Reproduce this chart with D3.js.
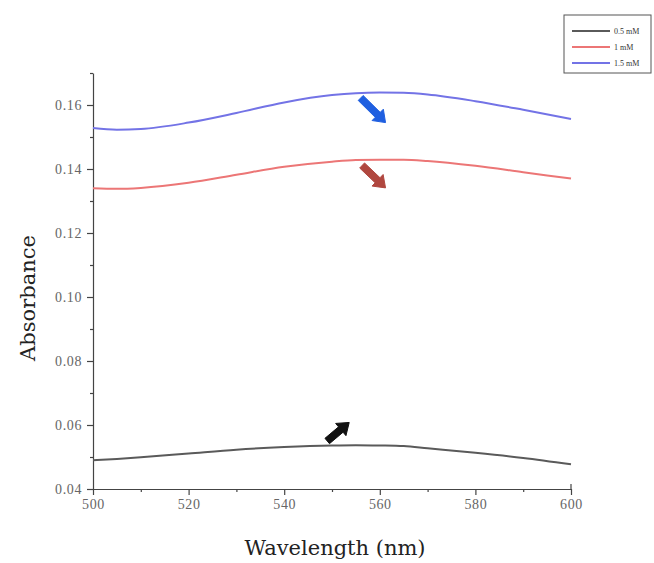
<!DOCTYPE html>
<html>
<head>
<meta charset="utf-8">
<script src="https://cdn.jsdelivr.net/npm/d3@7"></script>
<style>
  body { margin: 0; background: #fff; }
  svg { display: block; }
</style>
</head>
<body>
<div id="chart"></div>
<script>
// wavelengths (nm) sampled along the curves
const wavelengths = [500, 505, 510, 520, 530, 540, 550, 555, 560, 565, 570, 580, 590, 600];

// absorbance for each concentration
const abs05 = [0.0490, 0.0494, 0.0499, 0.0511, 0.0523, 0.0531, 0.0536, 0.0537, 0.0536, 0.0534, 0.0527, 0.0513, 0.0497, 0.0477];
const abs10 = [0.1340, 0.1338, 0.1341, 0.1357, 0.1382, 0.1407, 0.1423, 0.1428, 0.1429, 0.1429, 0.1425, 0.1410, 0.1390, 0.1370];
const abs15 = [0.1528, 0.1523, 0.1525, 0.1545, 0.1575, 0.1608, 0.1631, 0.1637, 0.1639, 0.1638, 0.1633, 0.1612, 0.1585, 0.1556];

const seriesNames = ["0.5 mM", "1 mM", "1.5 mM"];
const seriesColors = ["#5a5a5a", "#ec7676", "#7373e6"];

const xTicks = [500, 520, 540, 560, 580, 600];
const xMinor = [510, 530, 550, 570, 590];
const yTicks = [0.04, 0.06, 0.08, 0.10, 0.12, 0.14, 0.16];
const yMinor = [0.05, 0.07, 0.09, 0.11, 0.13, 0.15, 0.17];

// arrow annotations, in data units
const arrows = [
  {from: [556.0, 0.1622], to: [561.2, 0.1545], color: "#1f5fe0"},
  {from: [556.3, 0.1411], to: [561.2, 0.1341], color: "#b0473f"},
  {from: [549.0, 0.0550], to: [553.6, 0.0608], color: "#111"}
];

let width = 654, height = 563;
let margin = {top: 73, bottom: 74, left: 93, right: 83};

let svg = d3.select("#chart")
  .append("svg")
  .attr("width", width)
  .attr("height", height);

let x = d3.scaleLinear()
  .domain([500, 600])
  .range([margin.left, width - margin.right]);

let y = d3.scaleLinear()
  .domain([0.04, 0.17])
  .range([height - margin.bottom, margin.top]);

// axes
svg.append("g")
  .attr("transform", `translate(0,${height - margin.bottom})`)
  .call(d3.axisBottom(x).tickValues(xTicks).tickFormat(d3.format("d")).tickSize(6).tickSizeOuter(0).tickPadding(4));

svg.append("g")
  .attr("transform", `translate(0,${height - margin.bottom})`)
  .call(d3.axisBottom(x).tickValues(xMinor).tickFormat("").tickSize(3).tickSizeOuter(0))
  .select(".domain").remove();

svg.append("g")
  .attr("transform", `translate(${margin.left},0)`)
  .call(d3.axisLeft(y).tickValues(yTicks).tickFormat(d3.format(".2f")).tickSize(6).tickSizeOuter(0).tickPadding(5));

svg.append("g")
  .attr("transform", `translate(${margin.left},0)`)
  .call(d3.axisLeft(y).tickValues(yMinor).tickFormat("").tickSize(3).tickSizeOuter(0))
  .select(".domain").remove();

// small upward cap at the right end of the x axis
svg.append("line")
  .attr("x1", x(600)).attr("x2", x(600))
  .attr("y1", y(0.04)).attr("y2", y(0.04) - 5)
  .attr("stroke", "#444").attr("stroke-width", 1.2);

svg.selectAll(".domain, .tick line")
  .attr("stroke", "#444")
  .attr("stroke-width", 1.2);

svg.selectAll(".tick text")
  .attr("fill", "#666")
  .style("font-family", "Liberation Serif, serif")
  .style("font-size", "14px")
  .style("letter-spacing", "0.6px");

// axis labels
svg.append("text")
  .attr("x", 335)
  .attr("y", 555)
  .attr("text-anchor", "middle")
  .style("font-family", "DejaVu Serif, serif")
  .style("font-size", "21px")
  .attr("fill", "#222")
  .text("Wavelength (nm)");

svg.append("text")
  .attr("transform", "rotate(-90)")
  .attr("x", -298)
  .attr("y", 35)
  .attr("text-anchor", "middle")
  .style("font-family", "DejaVu Serif, serif")
  .style("font-size", "21px")
  .attr("fill", "#222")
  .text("Absorbance");

// lines
let line = d3.line()
  .x((d, i) => x(wavelengths[i]))
  .y(d => y(d))
  .curve(d3.curveMonotoneX);

[abs05, abs10, abs15].forEach((vals, i) => {
  svg.append("path")
    .datum(vals)
    .attr("d", line)
    .attr("fill", "none")
    .attr("stroke", seriesColors[i])
    .attr("stroke-width", 2);
});

// block arrows
arrows.forEach(a => {
  let x1 = x(a.from[0]), y1 = y(a.from[1]);
  let x2 = x(a.to[0]), y2 = y(a.to[1]);
  let dx = x2 - x1, dy = y2 - y1;
  let len = Math.sqrt(dx * dx + dy * dy);
  let ux = dx / len, uy = dy / len;
  let px = -uy, py = ux;
  let shaftW = 3.5, headW = 8, headL = 11;
  let bx = x2 - ux * headL, by = y2 - uy * headL;
  let pts = [
    [x1 + px * shaftW, y1 + py * shaftW],
    [bx + px * shaftW, by + py * shaftW],
    [bx + px * headW, by + py * headW],
    [x2, y2],
    [bx - px * headW, by - py * headW],
    [bx - px * shaftW, by - py * shaftW],
    [x1 - px * shaftW, y1 - py * shaftW]
  ];
  svg.append("polygon")
    .attr("points", pts.map(p => p.join(",")).join(" "))
    .attr("fill", a.color)
    .attr("stroke", a.color)
    .attr("stroke-width", 1)
    .attr("stroke-linejoin", "round");
});

// legend
const legend = svg.append("g")
  .attr("transform", "translate(564,15)");

legend.append("rect")
  .attr("width", 87)
  .attr("height", 58)
  .attr("fill", "#fff")
  .attr("stroke", "#555")
  .attr("stroke-width", 1);

seriesNames.forEach((name, i) => {
  legend.append("line")
    .attr("x1", 8).attr("x2", 46)
    .attr("y1", 16 + i * 16).attr("y2", 16 + i * 16)
    .attr("stroke", seriesColors[i])
    .attr("stroke-width", 2);
  legend.append("text")
    .attr("x", 50)
    .attr("y", 16 + i * 16)
    .attr("dy", "0.35em")
    .style("font-family", "Liberation Serif, serif")
    .style("font-size", "8px")
    .attr("fill", "#333")
    .text(name);
});
</script>
</body>
</html>
